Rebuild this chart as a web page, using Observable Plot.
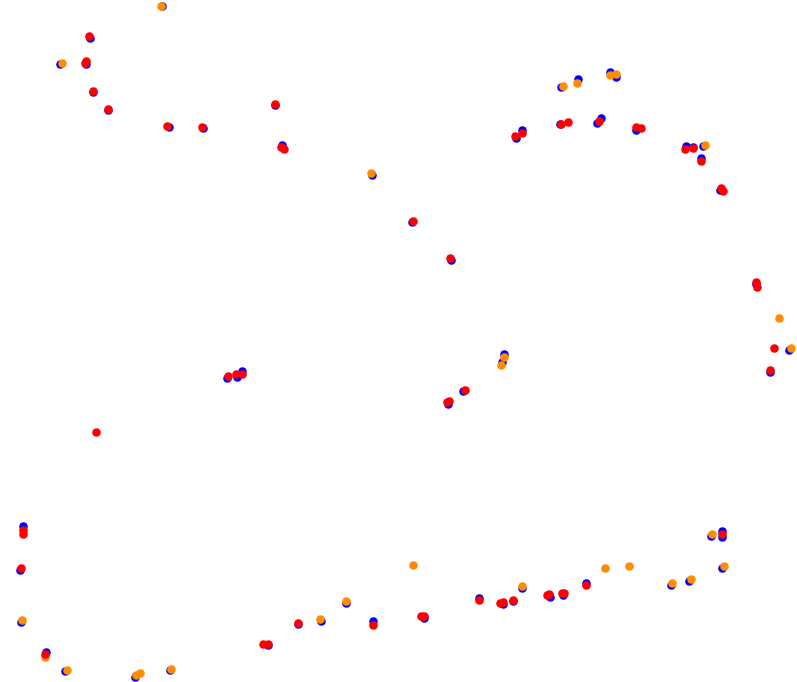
<!DOCTYPE html>
<html>
<head>
<meta charset="utf-8">
<script src="https://cdn.jsdelivr.net/npm/d3@7"></script>
<script src="https://cdn.jsdelivr.net/npm/@observablehq/plot@0.6"></script>
<style>
  html, body { margin: 0; padding: 0; background: #ffffff; }
  #chart svg { display: block; }
</style>
</head>
<body>
<div id="chart"></div>
<script>
const blueX = [162,90,60,86,93,108,169,203,275,282,372,516,522,561,578,610,616,560,601,597,636,686,693,703,701,720,412,451,756,789,770,504,502,463,448,227,237,242,23,20,21,46,65,135,170,268,298,321,346,373,424,479,503,513,522,550,563,586,671,689,711,722,722,722];
const blueY = [6,38,64,64,92,110,127,128,105,145,175,138,130,87,79,72,77,124,118,123,130,146,147,146,158,190,222,260,284,350,372,354,362,391,404,378,377,371,526,570,622,652,671,677,670,645,624,621,603,621,618,598,604,601,588,597,595,583,585,581,536,531,537,568];

const orangeX = [161,62,371,563,577,610,616,705,779,791,504,501,22,45,67,136,140,171,320,346,413,522,605,629,672,691,712,724];
const orangeY = [6,63,173,86,83,75,74,145,318,348,357,365,620,657,670,675,673,669,619,601,565,586,568,566,583,579,534,566];

const redX = [89,86,85,93,108,167,202,275,281,284,515,522,561,568,599,636,641,685,693,701,721,723,413,450,756,757,774,770,465,449,447,228,236,242,96,23,23,21,45,263,268,298,373,421,424,479,500,503,513,547,549,562,564,586,722];
const redY = [36,61,63,91,109,126,127,104,147,149,136,133,124,122,121,127,128,149,148,161,188,191,221,258,282,287,348,370,390,401,402,376,374,374,432,530,534,568,654,644,644,623,625,616,616,600,603,602,600,595,594,593,593,585,534];

const toRows = (xs, ys) => xs.map((x, i) => ({x, y: ys[i]}));
const blue = toRows(blueX, blueY);
const orange = toRows(orangeX, orangeY);
const red = toRows(redX, redY);

const chart = Plot.plot({
  width: 797,
  height: 682,
  margin: 0,
  x: {domain: [0, 797], axis: null},
  y: {domain: [682, 0], axis: null},
  marks: [
    Plot.dot(blue, {x: "x", y: "y", r: 4.3, fill: "#0000ff", stroke: "none"}),
    Plot.dot(orange, {x: "x", y: "y", r: 4.3, fill: "#ff8c00", stroke: "none"}),
    Plot.dot(red, {x: "x", y: "y", r: 4.3, fill: "#ff0000", stroke: "none"})
  ]
});
document.getElementById("chart").appendChild(chart);
</script>
</body>
</html>
